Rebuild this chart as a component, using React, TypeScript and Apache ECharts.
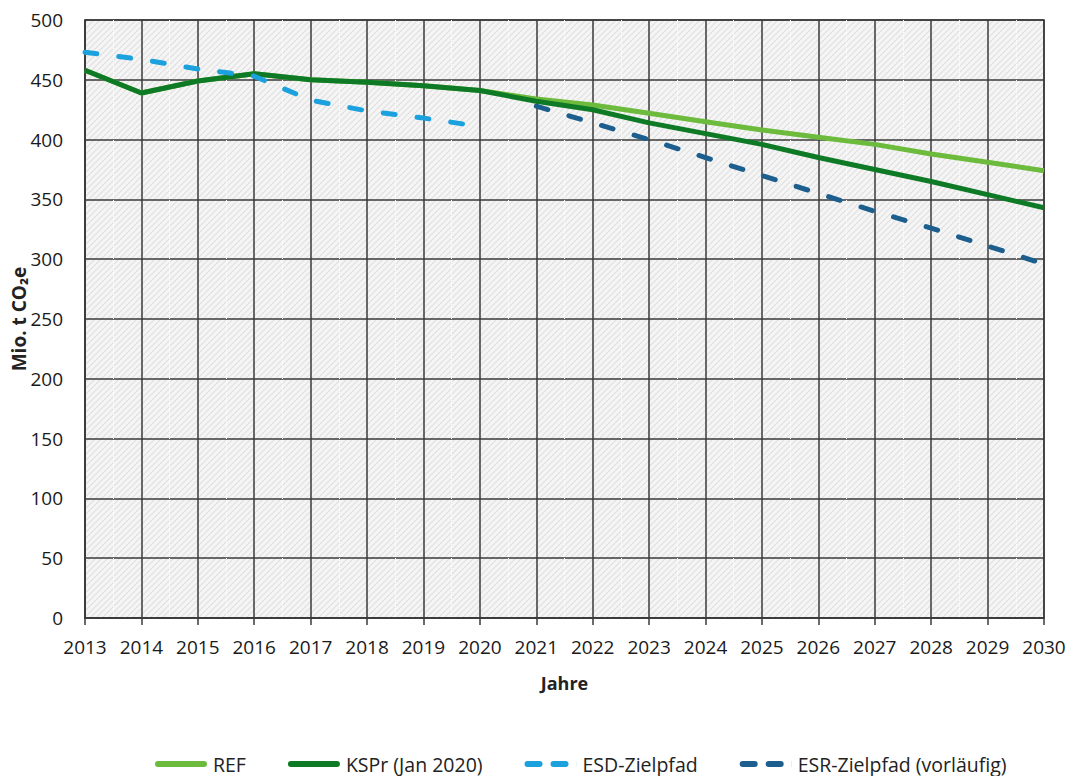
import React, { useEffect, useRef } from "react";
import * as echarts from "echarts";

const years = [2013, 2014, 2015, 2016, 2017, 2018, 2019, 2020, 2021, 2022, 2023, 2024, 2025, 2026, 2027, 2028, 2029, 2030];
const refValues = [458, 439, 449, 455, 450, 448, 445, 441, 434, 429, 422, 415, 408, 402, 396, 388, 381, 374];
const ksprValues = [458, 439, 449, 455, 450, 448, 445, 441, 432, 425, 414, 405, 396, 385, 375, 365, 354, 343];
const esdValues = [473, 467, 459, 453, 433, 424, 418, 411, null, null, null, null, null, null, null, null, null, null];
const esrValues = [null, null, null, null, null, null, null, null, 428, 414, 400, 385, 370, 355, 340, 326, 311, 296];
const seriesNames = ["REF", "KSPr (Jan 2020)", "ESD-Zielpfad", "ESR-Zielpfad (vorläufig)"];
const yTicks = [0, 50, 100, 150, 200, 250, 300, 350, 400, 450, 500];

const FONT = "'Open Sans', sans-serif";
const C_REF = "#6cbb3c";
const C_KSPR = "#0f7a26";
const C_ESD = "#1ba1dd";
const C_ESR = "#1c5f8e";

const patternSvg =
  "<svg xmlns='http://www.w3.org/2000/svg' width='6' height='6'>" +
  "<rect width='6' height='6' fill='#f5f5f5'/>" +
  "<path d='M-1,1 L1,-1 M0,6 L6,0 M5,7 L7,5' stroke='#e0e0e0' stroke-width='1.2'/>" +
  "</svg>";
const patternUrl = "data:image/svg+xml;charset=utf-8," + encodeURIComponent(patternSvg);

const solidIcon = "path://M3,0 L49,0 A3,3 0 0 1 49,6 L3,6 A3,3 0 0 1 3,0 Z";
const dashIcon =
  "path://M3,0 L15,0 A3,3 0 0 1 15,6 L3,6 A3,3 0 0 1 3,0 Z M29,0 L41,0 A3,3 0 0 1 41,6 L29,6 A3,3 0 0 1 29,0 Z M52,0 L52,6 L51.9,6 L51.9,0 Z";

function pairs(vals: (number | null)[]) {
  return years.map((y, i) => [y, vals[i]]);
}

export default function App() {
  const ref = useRef<HTMLDivElement>(null);
  useEffect(() => {
    if (!ref.current) return;
    const chart = echarts.init(ref.current, undefined, { renderer: "svg" });
    const dashStyle = (color: string) => ({
      color,
      width: 5,
      type: [12, 22] as any,
      cap: "round" as any,
    });
    chart.setOption({
      animation: false,
      backgroundColor: "#ffffff",
      textStyle: { fontFamily: FONT },
      grid: {
        left: 85,
        right: 26,
        top: 20,
        bottom: 158,
        outerBoundsMode: "none",
        containLabel: false,
        show: true,
        backgroundColor: { image: patternUrl, repeat: "repeat" } as any,
        borderColor: "#3a3a3a",
        borderWidth: 1.5,
      } as any,
      legend: {
        data: [
          { name: seriesNames[0], icon: solidIcon, itemStyle: { color: C_REF } },
          { name: seriesNames[1], icon: solidIcon, itemStyle: { color: C_KSPR } },
          { name: seriesNames[2], icon: dashIcon, itemStyle: { color: C_ESD } },
          { name: seriesNames[3], icon: dashIcon, itemStyle: { color: C_ESR } },
        ],
        top: 749,
        left: 150,
        itemWidth: 54,
        itemHeight: 6,
        itemGap: 42,
        itemStyle: { borderWidth: 0 },
        lineStyle: { width: 0 },
        textStyle: { fontFamily: FONT, fontSize: 19.5, color: "#222", lineHeight: 20 },
      },
      xAxis: {
        type: "value",
        min: years[0],
        max: years[years.length - 1],
        interval: 1,
        name: "Jahre",
        nameLocation: "middle",
        nameGap: 56,
        nameMoveOverlap: false,
        nameTextStyle: { fontFamily: FONT, fontSize: 18, fontWeight: "bold", color: "#222" },
        axisLine: { show: true, lineStyle: { color: "#3a3a3a", width: 1.5 } },
        axisTick: { show: true, length: 7, lineStyle: { color: "#3a3a3a", width: 1.5 } },
        axisLabel: { fontFamily: FONT, fontSize: 19, color: "#1a1a1a", margin: 19, formatter: (v: number) => String(v) },
        splitLine: { show: true, lineStyle: { color: "#3a3a3a", width: 1.5 } },
        minorTick: { show: false, splitNumber: 2 },
        minorSplitLine: { show: true, lineStyle: { color: "#ffffff", type: "dotted", width: 1 } },
      } as any,
      yAxis: {
        type: "value",
        min: yTicks[0],
        max: yTicks[yTicks.length - 1],
        interval: 50,
        name: "Mio. t CO₂e",
        nameLocation: "middle",
        nameGap: 57,
        nameMoveOverlap: false,
        nameTextStyle: { fontFamily: FONT, fontSize: 19, fontWeight: "bold", color: "#222" },
        axisLine: { show: true, lineStyle: { color: "#3a3a3a", width: 1.5 } },
        axisTick: { show: false },
        axisLabel: { fontFamily: FONT, fontSize: 19, color: "#1a1a1a", margin: 22 },
        splitLine: { show: true, lineStyle: { color: "#3a3a3a", width: 1.5 } },
      } as any,
      series: [
        {
          name: seriesNames[0],
          type: "line",
          data: pairs(refValues),
          symbol: "none",
          z: 3,
          lineStyle: { color: C_REF, width: 5 },
          itemStyle: { color: C_REF },
        },
        {
          name: seriesNames[1],
          type: "line",
          data: pairs(ksprValues),
          symbol: "none",
          z: 4,
          lineStyle: { color: C_KSPR, width: 5 },
          itemStyle: { color: C_KSPR },
        },
        {
          name: seriesNames[2],
          type: "line",
          data: pairs(esdValues),
          symbol: "none",
          z: 5,
          lineStyle: dashStyle(C_ESD),
          itemStyle: { color: C_ESD },
        },
        {
          name: seriesNames[3],
          type: "line",
          data: pairs(esrValues),
          symbol: "none",
          z: 2,
          lineStyle: dashStyle(C_ESR),
          itemStyle: { color: C_ESR },
        },
      ],
    });
    return () => chart.dispose();
  }, []);
  return (
    <div
      ref={ref}
      style={{ position: "fixed", left: 0, top: 0, width: 1070, height: 776 }}
    />
  );
}
